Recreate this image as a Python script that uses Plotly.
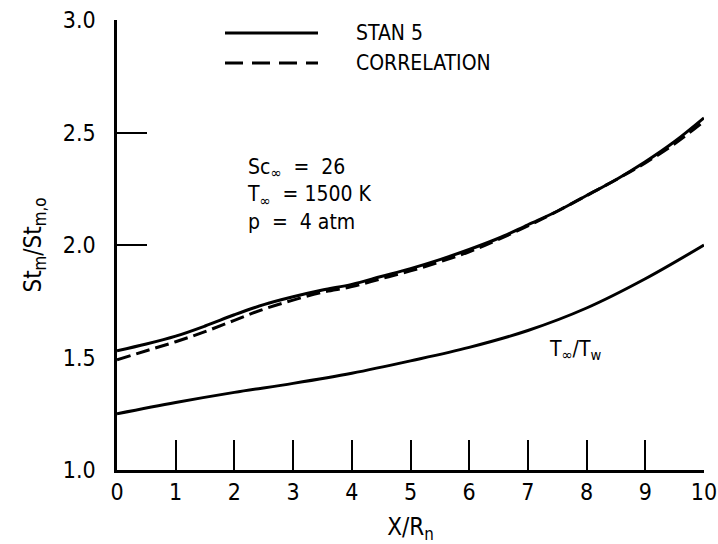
import plotly.graph_objects as go

# Data
x_vals = [0, 0.5, 1, 1.5, 2, 2.5, 3, 3.5, 4, 4.5, 5, 5.5, 6, 6.5, 7, 7.5, 8, 8.5, 9, 9.5, 10]
stan5_upper = [1.53, 1.56, 1.595, 1.64, 1.69, 1.735, 1.77, 1.80, 1.825, 1.86, 1.895, 1.935,
               1.98, 2.03, 2.09, 2.15, 2.22, 2.29, 2.37, 2.46, 2.565]
correlation = [1.49, 1.53, 1.57, 1.615, 1.665, 1.715, 1.755, 1.79, 1.815, 1.85, 1.885, 1.925,
               1.97, 2.025, 2.085, 2.15, 2.22, 2.29, 2.365, 2.45, 2.55]
x_lower = [0, 1, 2, 3, 4, 5, 6, 7, 8, 9, 10]
stan5_lower = [1.25, 1.30, 1.345, 1.385, 1.43, 1.485, 1.545, 1.62, 1.72, 1.85, 2.0]

x_ticks = [0, 1, 2, 3, 4, 5, 6, 7, 8, 9, 10]
y_ticks = [1.0, 1.5, 2.0, 2.5, 3.0]
y_ticktext = ["1.0", "1.5", "2.0", "2.5", "3.0"]
y_tickmarks = [2.0, 2.5, 3.0]

FONT = "DejaVu Sans Condensed, Liberation Sans Narrow, sans-serif"

fig = go.Figure()
fig.add_trace(go.Scatter(x=x_vals, y=stan5_upper, mode="lines", line=dict(color="black", width=3),
                         line_shape="spline", showlegend=False))
fig.add_trace(go.Scatter(x=x_vals, y=correlation, mode="lines",
                         line=dict(color="black", width=3, dash="14px,6px"),
                         line_shape="spline", showlegend=False))
fig.add_trace(go.Scatter(x=x_lower, y=stan5_lower, mode="lines", line=dict(color="black", width=3),
                         line_shape="spline", showlegend=False))
# invisible trace to host the tick-mark axis
fig.add_trace(go.Scatter(x=[0], y=[3.0], yaxis="y2", mode="markers",
                         marker=dict(opacity=0), showlegend=False, hoverinfo="skip"))

fig.update_layout(
    width=718, height=544,
    margin=dict(l=117, r=14, t=20, b=74),
    paper_bgcolor="white", plot_bgcolor="white",
    font=dict(family=FONT, size=22, color="black"),
    xaxis=dict(range=[0, 10], tickmode="array", tickvals=x_ticks,
               ticktext=[str(v) for v in x_ticks], automargin=False,
               ticks="inside", ticklen=30, tickwidth=2, tickcolor="black",
               showline=True, linewidth=2.5, linecolor="black", showgrid=False, zeroline=False,
               tickfont=dict(size=23),
               title=dict(text="X/R<sub>n</sub>", font=dict(size=24))),
    yaxis=dict(range=[1.0, 3.0], tickmode="array", tickvals=y_ticks, ticktext=y_ticktext,
               ticks="", showline=True, linewidth=2.5, linecolor="black", automargin=False,
               showgrid=False, zeroline=False, tickfont=dict(size=23),
               ticklabelstandoff=14,
               title=dict(text="St<sub>m</sub>/St<sub>m,o</sub>", font=dict(size=24))),
    yaxis2=dict(range=[1.0, 3.0], overlaying="y", side="left", tickmode="array", automargin=False,
                tickvals=y_tickmarks, ticks="inside", ticklen=30, tickwidth=2, tickcolor="black",
                showticklabels=False, showline=False, showgrid=False, zeroline=False),
)

# legend drawn as line samples + labels
fig.add_shape(type="line", xref="paper", yref="paper", x0=(225-117)/587, x1=(318-117)/587,
              y0=(470-33)/450, y1=(470-33)/450, line=dict(color="black", width=3))
fig.add_shape(type="line", xref="paper", yref="paper", x0=(225-117)/587, x1=(318-117)/587,
              y0=(470-63)/450, y1=(470-63)/450, line=dict(color="black", width=3, dash="18px,9px"))
fig.add_annotation(xref="paper", yref="paper", x=(354-117)/587, y=(470-33)/450, text="STAN 5",
                   showarrow=False, xanchor="left", yanchor="middle", font=dict(size=21))
fig.add_annotation(xref="paper", yref="paper", x=(354-117)/587, y=(470-63)/450, text="CORRELATION",
                   showarrow=False, xanchor="left", yanchor="middle", font=dict(size=21))

# conditions text
fig.add_annotation(xref="paper", yref="paper", x=(245-117)/587, y=(470-195)/450,
                   text="Sc<sub>∞</sub>  =  26<br>T<sub>∞</sub>  = 1500 K<br>p  =  4 atm",
                   showarrow=False, xanchor="left", yanchor="middle", align="left",
                   font=dict(size=21))

fig.add_annotation(x=7.8, y=1.535, text="T<sub>∞</sub>/T<sub>w</sub>", showarrow=False,
                   font=dict(size=21))

fig.write_html("out.html", config={"displayModeBar": False},
               post_script="document.body.style.margin='0';document.body.style.overflow='hidden';")
